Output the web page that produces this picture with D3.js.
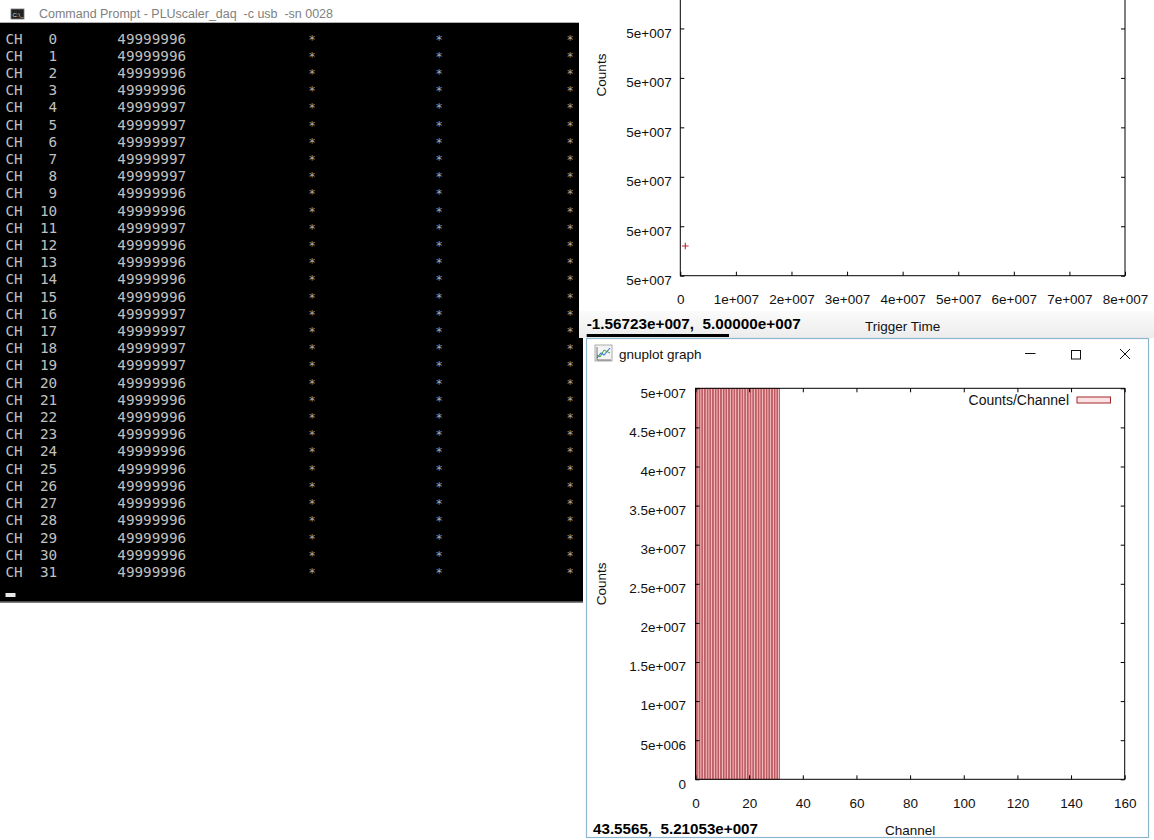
<!DOCTYPE html>
<html>
<head>
<meta charset="utf-8">
<script src="https://cdn.jsdelivr.net/npm/d3@7"></script>
<style>
  html, body { margin: 0; padding: 0; background: #fff; overflow: hidden; }
  svg { display: block; }
  text { white-space: pre; }
</style>
</head>
<body>
<svg id="scene" width="1154" height="840"></svg>
<script>
// ---- scaler readout: counts per channel ----
const channels = d3.range(32);
const counts = [
  49999996, 49999996, 49999996, 49999996, 49999997, 49999997, 49999997, 49999997,
  49999997, 49999996, 49999996, 49999997, 49999996, 49999996, 49999996, 49999996,
  49999997, 49999997, 49999997, 49999997, 49999996, 49999996, 49999996, 49999996,
  49999996, 49999996, 49999996, 49999996, 49999996, 49999996, 49999996, 49999996
];

// ---- counts vs trigger time (one sample in view) ----
const triggerTimes = [900000];
const triggerCounts = [49999996.12];

// ---- tick values ----
const timeTicks = [0, 1e7, 2e7, 3e7, 4e7, 5e7, 6e7, 7e7, 8e7];
const timeCountTicks = [49999996.0, 49999996.2, 49999996.4, 49999996.6, 49999996.8,
                        49999997.0, 49999997.2, 49999997.4, 49999997.6];
const channelTicks = [0, 20, 40, 60, 80, 100, 120, 140, 160];
const channelCountTicks = [0, 5e6, 1e7, 1.5e7, 2e7, 2.5e7, 3e7, 3.5e7, 4e7, 4.5e7, 5e7];

// ---- mouse readouts shown in the status lines ----
const statusTop = "-1.56723e+007,  5.00000e+007";
const statusBottom = "43.5565,  5.21053e+007";

const SANS = "'Liberation Sans', Arial, sans-serif";
const MONO = "'DejaVu Sans Mono', 'Liberation Mono', monospace";
const TICK_FS = 13.5;

// gnuplot-style %g labels with three-digit exponents
function gfmt(v) {
  if (v === 0) return "0";
  const p = +(+v).toPrecision(6);
  const a = Math.abs(p);
  if (a >= 1e6 || a < 1e-4) {
    const parts = p.toExponential().split("e");
    const m = String(+(+parts[0]).toPrecision(6));
    const sign = parts[1][0] === "-" ? "-" : "+";
    const digits = parts[1].replace(/[+-]/, "").padStart(3, "0");
    return m + "e" + sign + digits;
  }
  return String(p);
}

const svg = d3.select("#scene");
svg.append("rect").attr("width", 1154).attr("height", 840).attr("fill", "#fff");

// ================= console window =================
const con = svg.append("g");
con.append("rect").attr("x", 0).attr("y", 0).attr("width", 583).attr("height", 23).attr("fill", "#fff");
// title icon
con.append("rect").attr("x", 11).attr("y", 9).attr("width", 13).attr("height", 10)
  .attr("fill", "#222").attr("stroke", "#777").attr("stroke-width", 0.8);
con.append("text").attr("x", 12.5).attr("y", 16.5).attr("font-family", SANS)
  .attr("font-size", 6).attr("fill", "#ddd").text("C:\\_");
con.append("text").attr("x", 39).attr("y", 17.5).attr("font-family", SANS)
  .attr("font-size", 12.5).attr("fill", "#7f7f7f")
  .attr("textLength", 294).attr("lengthAdjust", "spacing")
  .text("Command Prompt - PLUscaler_daq  -c usb  -sn 0028");
// screen buffer
con.append("rect").attr("x", 0).attr("y", 22.7).attr("width", 583).attr("height", 579).attr("fill", "#000");
con.append("line").attr("x1", 0).attr("x2", 583).attr("y1", 602.5).attr("y2", 602.5)
  .attr("stroke", "#808080").attr("stroke-width", 1);

const rowY = d3.scaleLinear().domain([0, 31]).range([38.3, 571.7]);
const col = c => 5.5 + c * 8.6;
const FS = 14.3;
const rows = con.selectAll("g.row").data(channels).join("g").attr("class", "row")
  .attr("transform", ch => `translate(0,${rowY(ch) + FS * 0.365})`)
  .attr("font-family", MONO).attr("font-size", FS).attr("fill", "#c0c0c0");
rows.append("text").attr("x", col(0)).text("CH");
rows.append("text").attr("x", col(6)).attr("text-anchor", "end").text(ch => String(ch));
rows.append("text").attr("x", col(13)).text(ch => String(counts[ch]));
[312, 439, 570].forEach(x => {
  rows.append("text").attr("x", x).attr("text-anchor", "middle").attr("fill", "#a8a8a8")
    .attr("font-size", 12).text("*");
});
// cursor
con.append("rect").attr("x", 5.5).attr("y", 593).attr("width", 10).attr("height", 4).attr("fill", "#e8e8e8");

// ================= counts vs trigger time window =================
const tw = svg.append("g");
tw.append("rect").attr("x", 579).attr("y", 0).attr("width", 575).attr("height", 338).attr("fill", "#fff");
const grad = svg.append("defs").append("linearGradient").attr("id", "statusbar")
  .attr("x1", 0).attr("x2", 0).attr("y1", 0).attr("y2", 1);
grad.append("stop").attr("offset", "0%").attr("stop-color", "#fbfbfb");
grad.append("stop").attr("offset", "100%").attr("stop-color", "#ececec");
tw.append("rect").attr("x", 579).attr("y", 311).attr("width", 575).attr("height", 27).attr("fill", "url(#statusbar)");
tw.append("rect").attr("x", 586.7).attr("y", 334).attr("width", 142.3).attr("height", 3).attr("fill", "#000");

const xT = d3.scaleLinear().domain([0, 8e7]).range([680.3, 1125]);
const yT = d3.scaleLinear().domain([49999996, 49999997.6]).range([275.7, -119.9]);
// only the ticks that fall inside the window are drawn
const timeCountTicksShown = timeCountTicks.filter(v => yT(v) >= 0);

function styleAxis(g, fontSize) {
  g.select(".domain").remove();
  g.selectAll(".tick line").attr("stroke", "#000").attr("stroke-width", 1);
  g.selectAll(".tick text").attr("fill", "#111").attr("font-family", SANS).attr("font-size", fontSize);
}

const tAxes = tw.append("g");
tAxes.append("g").attr("transform", `translate(0,${yT.range()[0]})`)
  .call(d3.axisBottom(xT).tickValues(timeTicks).tickFormat(gfmt).tickSizeInner(-4).tickSizeOuter(0).tickPadding(19))
  .call(g => styleAxis(g, TICK_FS));
tAxes.append("g").attr("transform", `translate(${xT.range()[0]},0)`)
  .call(d3.axisLeft(yT).tickValues(timeCountTicksShown).tickFormat(gfmt).tickSizeInner(-4).tickSizeOuter(0).tickPadding(8.6))
  .call(g => styleAxis(g, TICK_FS))
  .call(g => g.selectAll(".tick text").attr("dy", 8.8));
tAxes.append("g").attr("transform", `translate(${xT.range()[1]},0)`)
  .call(d3.axisRight(yT).tickValues(timeCountTicksShown).tickFormat(() => "").tickSizeInner(-4).tickSizeOuter(0))
  .call(g => styleAxis(g, TICK_FS));
tAxes.append("rect").attr("x", xT.range()[0]).attr("y", yT.range()[1])
  .attr("width", xT.range()[1] - xT.range()[0]).attr("height", yT.range()[0] - yT.range()[1])
  .attr("fill", "none").attr("stroke", "#000").attr("stroke-width", 1);

// sample points drawn as gnuplot "+" marks
tw.append("g").selectAll("path").data(triggerTimes).join("path")
  .attr("d", (t, i) => {
    const cx = xT(t), cy = yT(triggerCounts[i]), r = 3.3;
    return `M${cx - r},${cy}H${cx + r}M${cx},${cy - r}V${cy + r}`;
  })
  .attr("stroke", "#c3282f").attr("stroke-width", 1.1).attr("fill", "none");

tw.append("text").attr("transform", `translate(${601},${75}) rotate(-90)`)
  .attr("text-anchor", "middle").attr("dy", 4.6).attr("font-family", SANS).attr("font-size", 13.5)
  .attr("fill", "#111").text("Counts");
tw.append("text").attr("x", (xT.range()[0] + xT.range()[1]) / 2).attr("y", 330.6)
  .attr("text-anchor", "middle").attr("font-family", SANS).attr("font-size", 13.5)
  .attr("fill", "#111").text("Trigger Time");
tw.append("text").attr("x", 586.7).attr("y", 329).attr("font-family", SANS).attr("font-weight", "bold")
  .attr("font-size", 15.5).attr("fill", "#000")
  .attr("textLength", 214).attr("lengthAdjust", "spacingAndGlyphs").text(statusTop);

// ================= counts per channel window =================
const bw = svg.append("g");
bw.append("rect").attr("x", 586.5).attr("y", 338.5).attr("width", 562).attr("height", 499)
  .attr("fill", "#fff").attr("stroke", "#8fb6cf").attr("stroke-width", 1.2);
// title bar icon
const ic = bw.append("g").attr("transform", "translate(595,345)");
ic.append("rect").attr("width", 17).attr("height", 16).attr("fill", "#f4f4f4").attr("stroke", "#8a8a8a").attr("stroke-width", 0.7);
ic.append("path").attr("d", "M2,13 L6,8 L9,10 L15,3").attr("stroke", "#3a7bd5").attr("fill", "none").attr("stroke-width", 1.1);
ic.append("path").attr("d", "M2,10 L5,12 L9,5 L15,8").attr("stroke", "#46a046").attr("fill", "none").attr("stroke-width", 1);
ic.append("path").attr("d", "M2,15 V2 M2,15 H16").attr("stroke", "#555").attr("fill", "none").attr("stroke-width", 0.8);
bw.append("text").attr("x", 619).attr("y", 358.5).attr("font-family", SANS).attr("font-size", 13.5)
  .attr("fill", "#111").text("gnuplot graph");
// caption buttons
bw.append("line").attr("x1", 1025).attr("x2", 1035.5).attr("y1", 353.5).attr("y2", 353.5).attr("stroke", "#111");
bw.append("rect").attr("x", 1071.5).attr("y", 350.5).attr("width", 9).attr("height", 8.5).attr("fill", "none").attr("stroke", "#111");
bw.append("path").attr("d", "M1120,349 L1130,359 M1130,349 L1120,359").attr("stroke", "#111").attr("stroke-width", 1);

const xB = d3.scaleLinear().domain([0, 160]).range([695.5, 1124.7]);
const yB = d3.scaleLinear().domain([0, 5e7]).range([779.3, 388.3]);

// bars, one box per channel centred on the channel number
const boxWidth = 0.75;
bw.append("g").selectAll("rect").data(channels).join("rect")
  .attr("x", ch => xB(Math.max(0, ch - boxWidth / 2)))
  .attr("width", ch => xB(ch + boxWidth / 2) - xB(Math.max(0, ch - boxWidth / 2)))
  .attr("y", ch => yB(counts[ch]))
  .attr("height", ch => yB(0) - yB(counts[ch]))
  .attr("fill", "#f2b9bc").attr("stroke", "#a52a30").attr("stroke-width", 0.65);

const bAxes = bw.append("g");
bAxes.append("g").attr("transform", `translate(0,${yB.range()[0]})`)
  .call(d3.axisBottom(xB).tickValues(channelTicks).tickFormat(gfmt).tickSizeInner(-4).tickSizeOuter(0).tickPadding(18.8))
  .call(g => styleAxis(g, TICK_FS));
bAxes.append("g").attr("transform", `translate(0,${yB.range()[1]})`)
  .call(d3.axisTop(xB).tickValues(channelTicks).tickFormat(() => "").tickSizeInner(-4).tickSizeOuter(0))
  .call(g => styleAxis(g, TICK_FS));
bAxes.append("g").attr("transform", `translate(${xB.range()[0]},0)`)
  .call(d3.axisLeft(yB).tickValues(channelCountTicks).tickFormat(gfmt).tickSizeInner(-4).tickSizeOuter(0).tickPadding(9.5))
  .call(g => styleAxis(g, TICK_FS))
  .call(g => g.selectAll(".tick text").attr("dy", 8.8));
bAxes.append("g").attr("transform", `translate(${xB.range()[1]},0)`)
  .call(d3.axisRight(yB).tickValues(channelCountTicks).tickFormat(() => "").tickSizeInner(-4).tickSizeOuter(0))
  .call(g => styleAxis(g, TICK_FS));
bAxes.append("rect").attr("x", xB.range()[0]).attr("y", yB.range()[1])
  .attr("width", xB.range()[1] - xB.range()[0]).attr("height", yB.range()[0] - yB.range()[1])
  .attr("fill", "none").attr("stroke", "#000").attr("stroke-width", 1);

// key
bw.append("text").attr("x", 1069).attr("y", 404.8).attr("text-anchor", "end")
  .attr("font-family", SANS).attr("font-size", 14).attr("fill", "#111").text("Counts/Channel");
bw.append("rect").attr("x", 1077).attr("y", 397).attr("width", 33.5).attr("height", 6)
  .attr("fill", "#fce4e6").attr("stroke", "#a3262b").attr("stroke-width", 1);

bw.append("text").attr("transform", `translate(${601},${(yB.range()[0] + yB.range()[1]) / 2}) rotate(-90)`)
  .attr("text-anchor", "middle").attr("dy", 4.6).attr("font-family", SANS).attr("font-size", 13.5)
  .attr("fill", "#111").text("Counts");
bw.append("text").attr("x", (xB.range()[0] + xB.range()[1]) / 2).attr("y", 834.6)
  .attr("text-anchor", "middle").attr("font-family", SANS).attr("font-size", 13.5)
  .attr("fill", "#111").text("Channel");
bw.append("text").attr("x", 593).attr("y", 834).attr("font-family", SANS).attr("font-weight", "bold")
  .attr("font-size", 15.5).attr("fill", "#000")
  .attr("textLength", 165).attr("lengthAdjust", "spacingAndGlyphs").text(statusBottom);
</script>
</body>
</html>
